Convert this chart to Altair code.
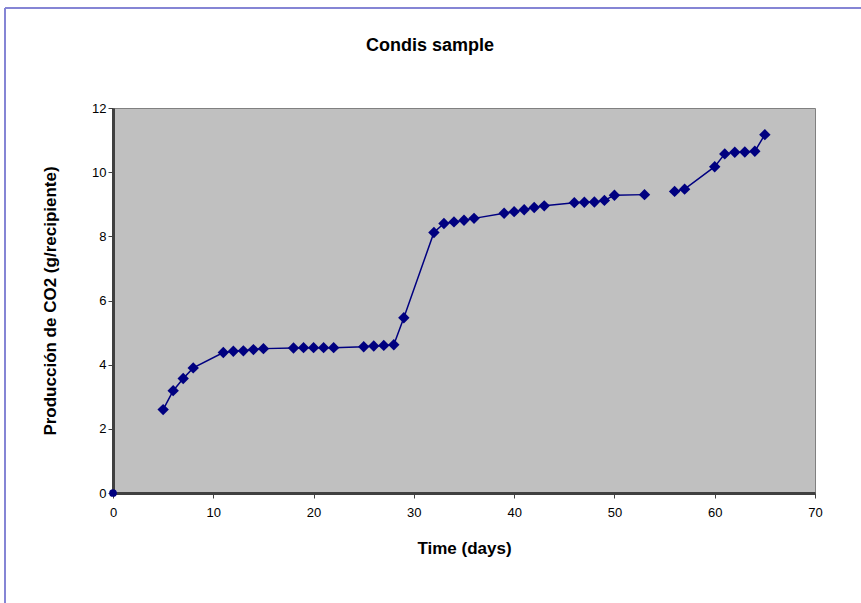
import altair as alt
import pandas as pd

# first run of measurements (days 5-53)
days_a = [5, 6, 7, 8, 11, 12, 13, 14, 15, 18, 19, 20, 21, 22, 25, 26, 27, 28, 29,
          32, 33, 34, 35, 36, 39, 40, 41, 42, 43, 46, 47, 48, 49, 50, 53]
co2_a = [2.6, 3.19, 3.57, 3.9, 4.38, 4.42, 4.43, 4.47, 4.5, 4.52, 4.53, 4.53, 4.53, 4.53,
         4.56, 4.58, 4.6, 4.62, 5.46, 8.12, 8.4, 8.45, 8.5, 8.56, 8.72, 8.77, 8.83, 8.9,
         8.95, 9.05, 9.06, 9.07, 9.12, 9.28, 9.3]
# second run (days 56-65), line broken between 53 and 56
days_b = [56, 57, 60, 61, 62, 63, 64, 65]
co2_b = [9.4, 9.47, 10.17, 10.57, 10.62, 10.63, 10.65, 11.17]
# origin point
days_0 = [0]
co2_0 = [0]

x_ticks = [0, 10, 20, 30, 40, 50, 60, 70]
y_ticks = [0, 2, 4, 6, 8, 10, 12]
title_text = ["Condis sample"]

df = pd.DataFrame({
    "day": days_a + days_b,
    "co2": co2_a + co2_b,
    "seg": ["a"] * len(days_a) + ["b"] * len(days_b),
})
origin = pd.DataFrame({"day": days_0, "co2": co2_0, "label": title_text})

FONT = "Liberation Sans"
NAVY = "#000080"

x_enc = alt.X("day:Q", scale=alt.Scale(domain=[0, 70], nice=False),
              axis=alt.Axis(values=x_ticks, title="Time (days)", titlePadding=21,
                            labelPadding=8, labelFlush=False))
y_enc = alt.Y("co2:Q", scale=alt.Scale(domain=[0, 12], nice=False),
              axis=alt.Axis(values=y_ticks, title="Producción de CO2 (g/recipiente)",
                            titlePadding=32, labelFlush=False))

line = alt.Chart(df).mark_line(
    color=NAVY, strokeWidth=1.5,
    point=alt.OverlayMarkDef(shape="diamond", size=130, filled=True, color=NAVY),
).encode(x=x_enc, y=y_enc, detail="seg:N")

pt = alt.Chart(origin).mark_point(shape="circle", size=60, filled=True, color=NAVY, opacity=1).encode(
    x="day:Q", y="co2:Q")

title = alt.Chart(origin).mark_text(
    font=FONT, fontSize=18, fontWeight="bold", color="black", align="center", baseline="middle"
).encode(text="label:N", x=alt.value(317), y=alt.value(-62))

frame_top = alt.Chart(origin).mark_rule(color="#8585d5", strokeWidth=2).encode(
    x=alt.value(-108), x2=alt.value(760), y=alt.value(-100))
frame_left = alt.Chart(origin).mark_rule(color="#8585d5", strokeWidth=2).encode(
    x=alt.value(-108), y=alt.value(-100), y2=alt.value(500))

chart = alt.layer(frame_top, frame_left, title, line, pt).properties(
    width=702, height=385,
    autosize=alt.AutoSizeParams(type="none"),
    padding={"left": 113, "top": 108, "right": 46, "bottom": 110},
    background="white",
).configure_view(
    fill="#C0C0C0", stroke="#808080", strokeWidth=1
).configure_axis(
    grid=False, domainColor="#404040", domainWidth=3, tickColor="#404040", tickSize=5,
    labelFont=FONT, labelFontSize=13, labelColor="black",
    titleFont=FONT, titleFontSize=17, titleFontWeight="bold", titleColor="black",
).configure_axisY(titleFontSize=17)

chart.save("out.html", embed_options={"renderer": "svg", "actions": False})
